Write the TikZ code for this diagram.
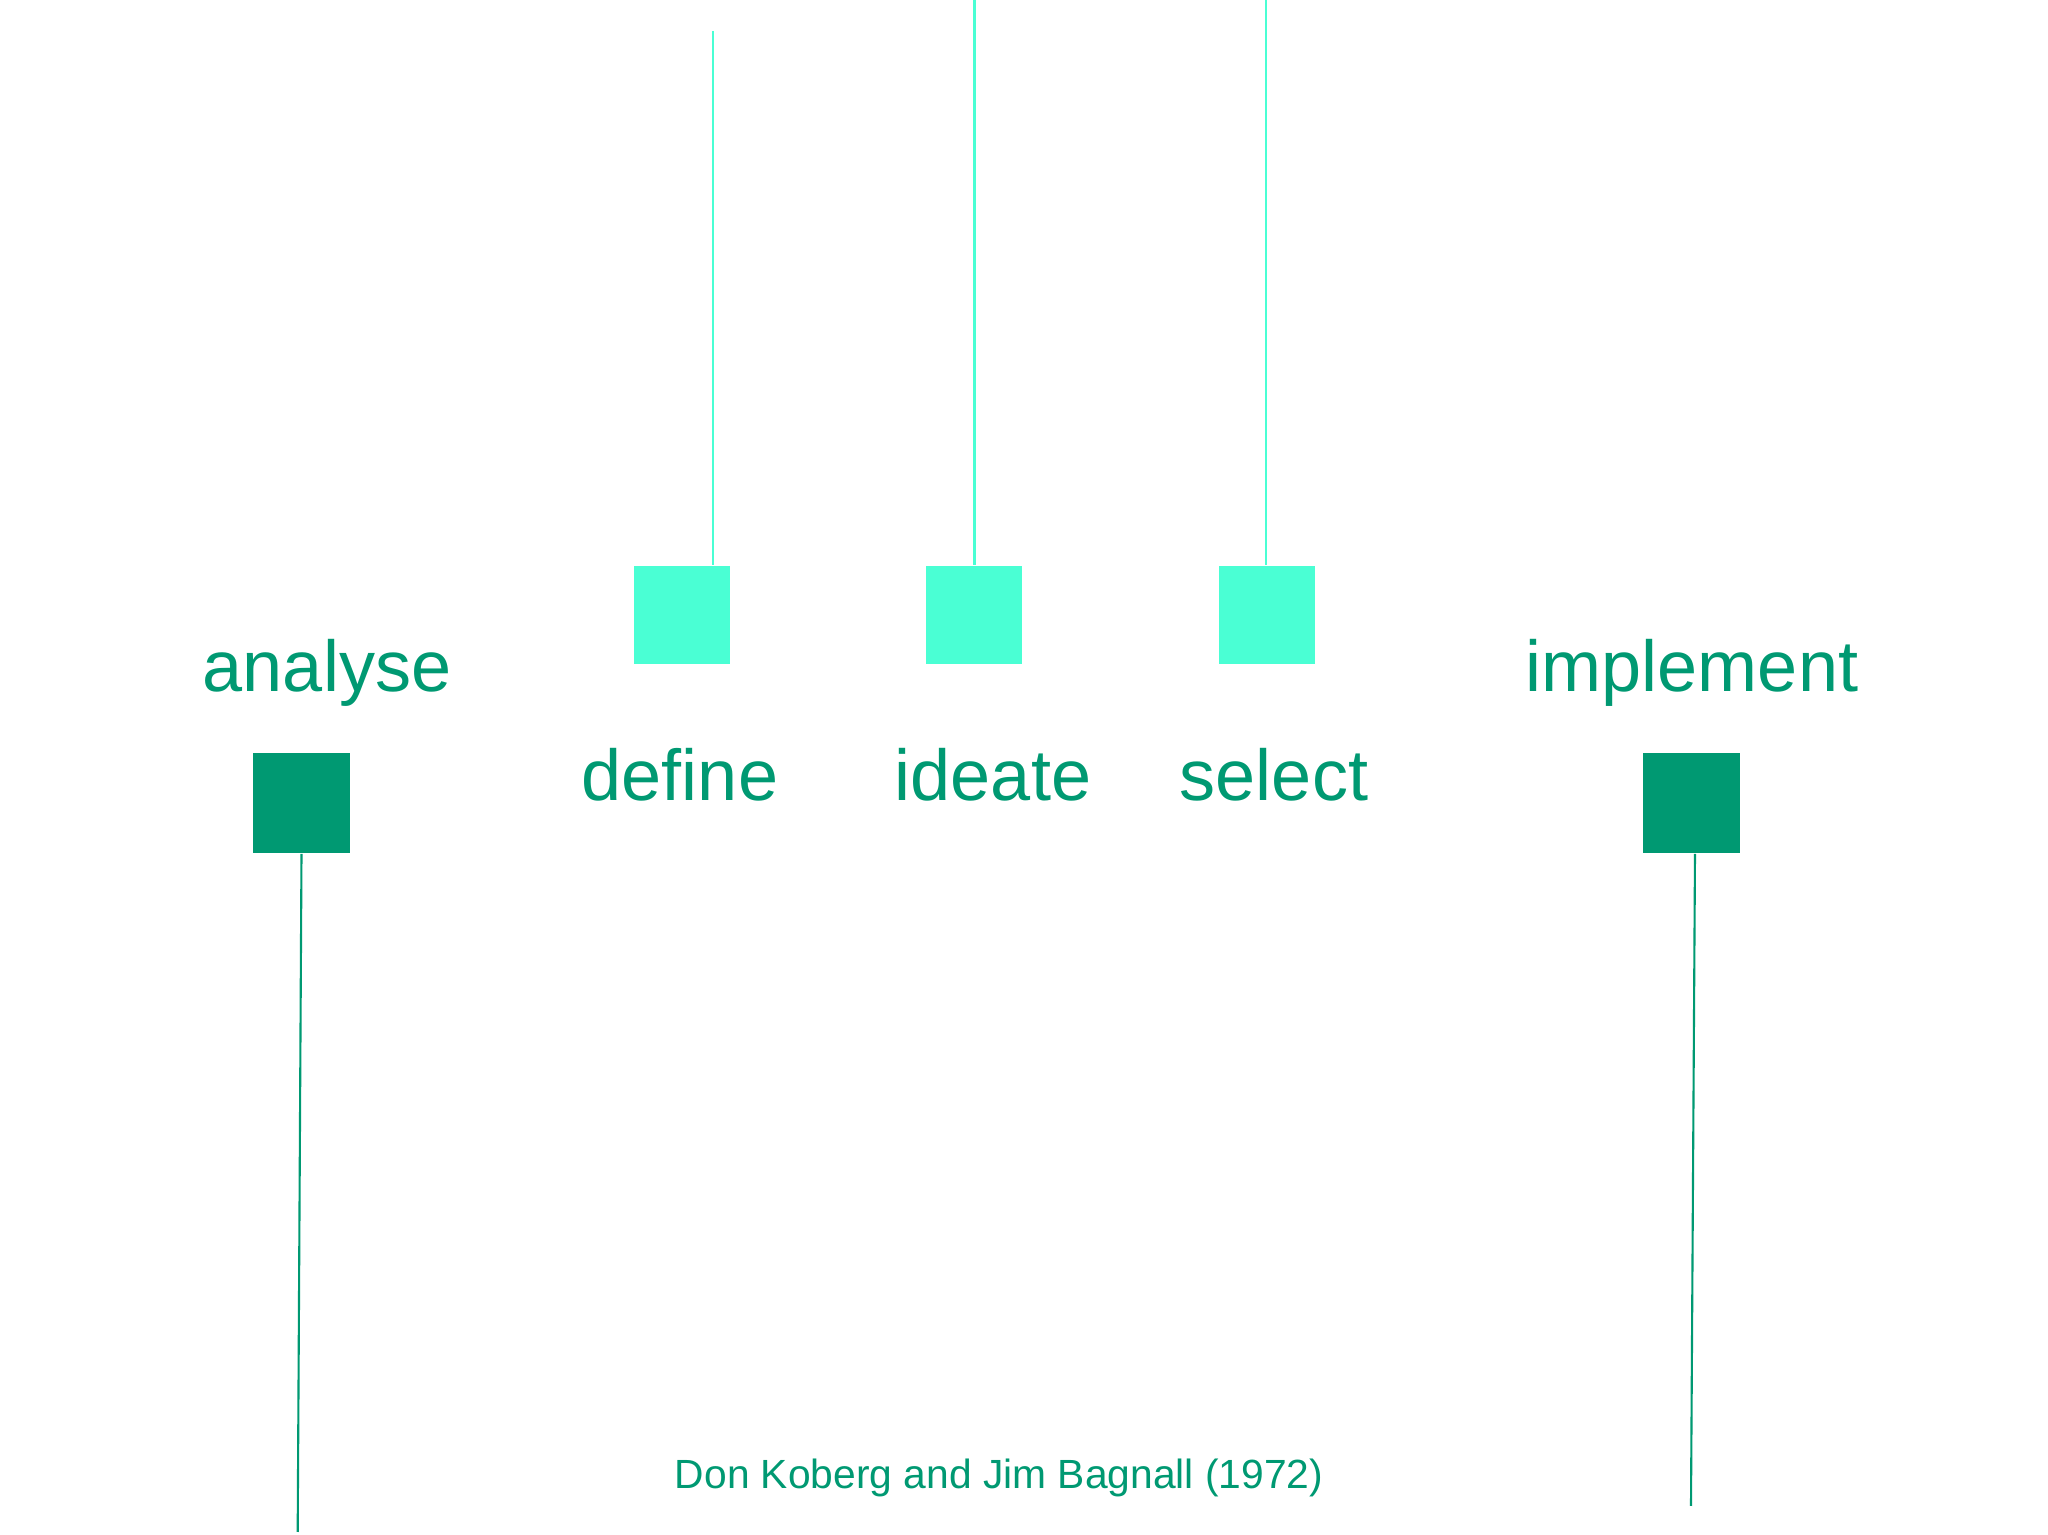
\documentclass[tikz,border=0pt]{standalone}
\usepackage{fontspec}
\setmainfont{Liberation Sans}
\usepackage{tikz}
\usetikzlibrary{positioning, calc}
\definecolor{darkgreen}{RGB}{0,153,114}
\definecolor{lightaqua}{RGB}{74,255,212}
\tikzset{
	darkbox/.style={rectangle, fill=darkgreen, inner sep=0pt, minimum width=0.97cm, minimum height=1cm},
	lightbox/.style={rectangle, fill=lightaqua, inner sep=0pt, minimum width=0.96cm, minimum height=0.98cm},
	phase/.style={text=darkgreen, anchor=base, inner sep=0pt, font=\fontsize{20.5}{24}\selectfont},
	darkline/.style={draw=darkgreen, line width=0.6pt},
	lightline/.style={draw=lightaqua, line width=0.6pt}
}
\begin{document}
\begin{tikzpicture}
		\useasboundingbox (0,0) rectangle (20.48,15.35);

		\node(analyse)  [darkbox] at (3.015,7.317)  {};
		\node(implement)  [darkbox] at (16.91,7.317)  {};
		\node(define)  [lightbox] at (6.82,9.20)  {};
		\node(ideate)  [lightbox] at (9.74,9.20)  {};
		\node(select)  [lightbox] at (12.67,9.20)  {};

		\node(analysetxt)  [phase] at (3.27,8.433)  {analyse};
		\node(implementtxt)  [phase] at (16.92,8.433)  {implement};
		\node(definetxt)  [phase] at (6.80,7.343)  {define};
		\node(ideatetxt)  [phase] at (9.93,7.343)  {ideate};
		\node(selecttxt)  [phase] at (12.74,7.343)  {select};

		\node(source)  [text=darkgreen, anchor=base, inner sep=0pt, font=\fontsize{11.6}{14}\selectfont] at (9.99,0.467)  {Don Koberg and Jim Bagnall (1972)};

		\coordinate (definetop) at (7.13,15.04);
		\coordinate (ideatetop) at (9.745,15.35);
		\coordinate (selecttop) at (12.66,15.35);
		\coordinate (analyseend) at (2.977,0.03);
		\coordinate (implementend) at (16.91,0.29);

		\draw[lightline] (definetop) -- (definetop |- define.north);
		\draw[lightline] (ideatetop) -- (ideatetop |- ideate.north);
		\draw[lightline] (selecttop) -- (selecttop |- select.north);

		\draw[darkline] (analyse.south) -- (analyseend);
		\draw[darkline] ($(implement.south)+(0.04,0)$) -- (implementend);

		\end{tikzpicture}
\end{document}
